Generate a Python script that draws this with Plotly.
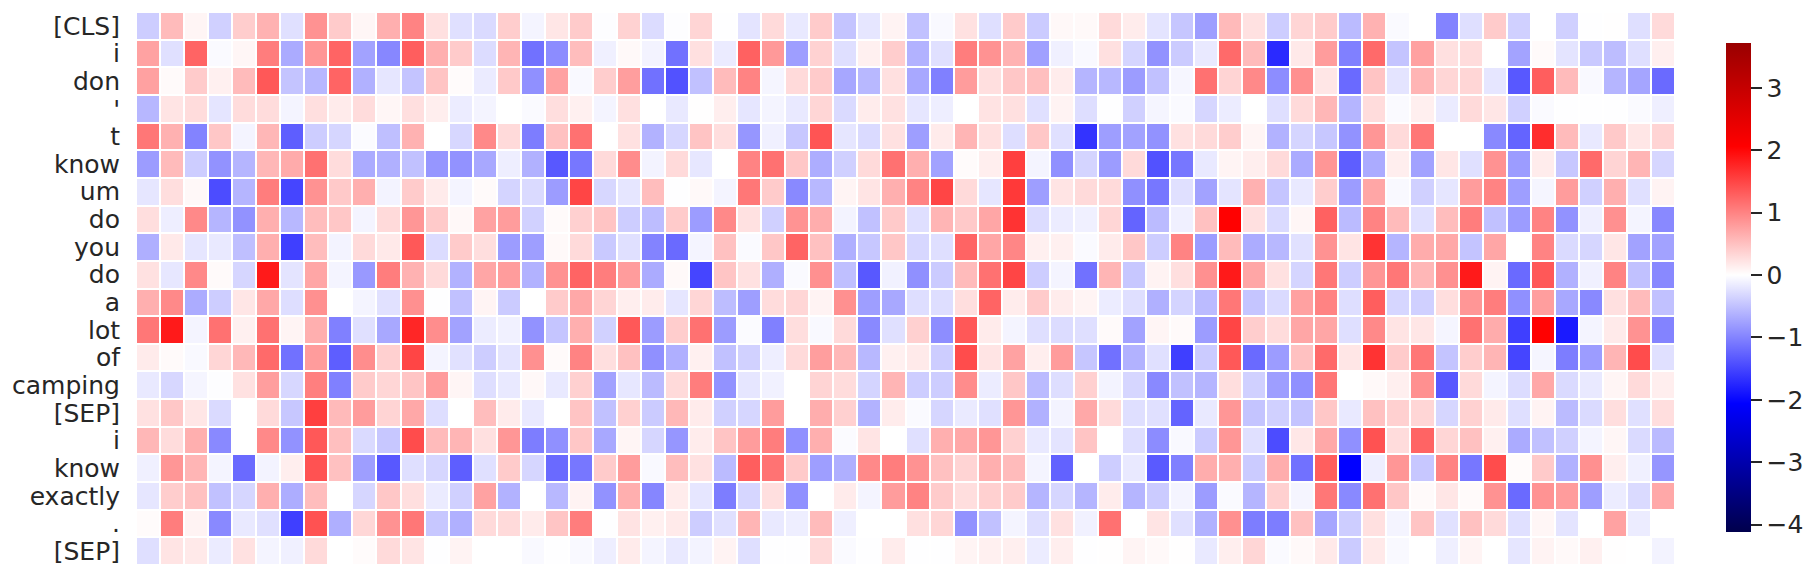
import plotly.graph_objects as go

tokens = ["[CLS]", "i", "don", "'", "t", "know", "um", "do", "you", "do", "a", "lot", "of", "camping", "[SEP]", "i", "know", "exactly", ".", "[SEP]"]

row_cls = [-.4,.55,.08,-.38,.4,.62,-.25,.88,.42,.07,.65,1.0,.25,-.25,-.3,.4,-.09,.2,.42,-.02,.36,-.28,-.02,.34,-.01,-.22,.3,-.18,.42,-.48,-.2,.1,-.5,-.05,.24,-.26,.42,-.42,.06,.05,.3,.15,-.22,-.46,-.78,.56,.24,-.4,.34,.42,-.55,.62,-.04,0,-1.0,-.26,.42,-.38,0,-.38,-.01,.01,-.26,.3]
row_i1 = [.75,-.25,1.25,-.04,.07,1.05,-.68,.85,1.25,-.75,-.97,1.3,.65,.42,-.28,.6,-1.15,-.93,.53,-.12,.05,-.1,-1.15,.25,-.16,1.28,.82,-.78,.36,-.26,.12,.4,-.62,-.25,1.05,.88,.62,-.77,-.12,-.05,.25,-.34,-.88,-.42,-.18,1.2,.55,-1.72,.18,.8,-1.03,1.2,-.48,.76,.25,.28,0,-.74,.04,-.22,-.44,-.53,-.26,.13]
row_don = [.76,.04,.42,.12,.55,1.35,-.48,-.58,1.25,-.63,-.2,-.48,.48,.03,-.16,.44,-.9,.75,-.05,.4,.78,-1.15,-1.4,-.5,.55,1.0,-.08,.3,.42,-.71,-.57,.25,-.7,-1.03,.8,.26,.45,.52,.15,-.6,-.57,-.8,-.5,-.07,1.15,.35,.95,-.92,.9,.2,-1.2,.48,-.22,.6,.33,.33,-.2,-1.35,1.3,.55,-.05,-.6,-.73,-1.2]
row_apos = [-.58,.22,.28,-.21,.28,.28,-.09,.26,.16,.28,.07,.26,.14,-.15,-.09,0,-.04,.27,.12,-.09,.25,0,-.18,.01,.14,-.2,-.09,-.18,.33,-.3,.15,.24,-.2,-.14,0,.23,.25,-.25,.1,-.27,-.01,-.38,-.08,-.04,-.33,-.15,0,-.26,.3,.58,-.6,.28,-.04,.13,-.16,.3,.2,-.38,-.04,-.01,-.01,-.01,-.04,-.13]
row_t = [1.1,.63,-1.0,.45,-.09,.58,-1.3,-.4,-.33,-.03,-.52,.62,0,-.32,.95,.3,-1.05,.5,1.15,0,.24,-.62,-.33,.48,.27,-.85,-.12,-.45,1.38,-.2,-.3,.24,-.78,.16,.6,.25,-.27,.45,-.25,-1.65,-.78,-.75,-.88,.24,.3,.4,.08,-.62,-.34,-.45,-.88,.85,.3,1.1,0,0,-.95,-1.25,1.7,.55,-.18,.44,.2,.35]
row_know1 = [-.8,.55,-.4,-.88,-.6,.58,.68,1.15,.28,-.68,-.64,-.5,-.85,-.88,-.7,-.14,-.63,-1.35,-1.1,.3,.93,-.1,.3,-.19,0,1.0,1.15,.45,-.66,-.38,.3,1.15,.65,-.75,.03,.14,1.55,-.09,-.9,-.35,-.8,.3,-1.4,-1.1,-.18,.09,.14,.3,-.68,.85,-1.3,-.68,.14,-.75,.2,-.25,.88,-.8,.15,-.45,1.2,.35,.6,-.33]
row_um = [-.2,.27,.06,-1.45,-.6,1.05,-1.5,.88,.44,.65,-.1,.42,.16,-.09,.04,-.35,-.3,-.8,1.5,-.32,-.2,.53,-.01,.05,-.09,1.1,.42,-.95,-.57,.09,.22,.65,1.0,1.5,.3,-.2,1.6,-.78,.22,.3,.3,-.9,-1.1,-.25,-.75,-.22,.63,-.47,-.18,.4,-.8,.72,-.05,-.38,-.2,.8,1.0,-.78,-.08,.8,-.38,.65,-.25,.1]
row_do1 = [.27,-.14,.95,-.6,-.88,.65,-.57,.53,.45,-.09,.3,.85,.43,.06,.75,.8,-.37,.04,.38,.48,-.4,-.53,.42,-.8,.95,.24,-.38,.87,.66,-.1,-.5,.43,-.26,.6,.44,.72,1.65,-.28,-.15,-.12,.33,-1.25,-.55,-.12,.5,2.05,.25,-.3,.07,1.28,-.55,1.0,.55,-.25,.53,1.05,-.5,-.8,1.0,-.88,-.13,.9,-.09,-.95]
row_you = [-.65,.18,-.2,-.18,-.52,.65,-1.55,.53,-.1,.3,.18,1.35,-.28,.42,.27,-.8,-.78,.05,.3,-.44,-.25,-1.0,-1.2,-.09,.5,-.04,.45,1.25,.5,-.65,-.45,.45,-.32,-.26,1.25,.72,.98,.12,.12,-.04,.16,.45,-.4,1.0,-.8,.55,-.67,-.57,-.24,.88,.22,1.65,-.6,.67,.7,-.48,.72,0,1.0,-.3,-.33,.2,-.75,-.75]
row_do2 = [.24,-.19,.95,.04,-.33,1.85,-.22,.72,-.09,-.82,1.05,.62,.3,-.62,.72,.8,-.62,.88,1.25,1.05,.8,-.68,.05,-1.5,.47,.24,-.65,-.04,.9,-.52,-1.35,-.11,-.9,-.42,.55,1.15,1.5,-.4,-.09,-1.15,.6,-.45,.1,.26,.9,1.85,.72,.24,-.34,1.1,-.4,.85,1.1,.58,.9,1.85,.1,-1.2,1.35,-.63,-.12,1.0,-.5,-.95]
row_a = [.65,.95,-.67,-.4,.2,.7,-.27,.9,0,-.09,-.24,.9,-.01,-.5,.09,-.42,0,.42,.7,.34,.14,.15,-.2,.33,-.53,-.78,.28,.33,.1,.9,-.78,-.7,-.27,-.27,.27,1.25,.15,.42,.15,.09,-.15,-.26,-.64,-.35,-.55,1.1,-.47,-.3,.76,1.0,-.27,1.3,-.33,-.38,.27,.85,1.05,-.9,.78,-.7,-.95,.25,.55,-.5]
row_lot = [1.1,1.85,-.09,1.15,.12,1.15,.09,.65,-1.03,-.25,-.7,1.75,.92,-.75,-.15,-.11,-.88,-.47,.65,-.37,1.35,-.8,.4,1.15,-.8,-.03,-1.03,.27,-.05,.3,-.95,-.25,.38,-.92,1.35,.16,-.09,-.26,-.28,-.26,.04,-.75,.08,.04,-.8,1.5,.4,.28,.72,.72,-.26,.95,.22,.2,-.08,1.15,.67,-1.55,2.05,-1.85,-.09,.17,.88,-1.0]
row_of = [.16,.04,-.05,.33,.57,1.2,-1.15,.8,-1.3,.92,.38,1.5,-.09,-.24,-.4,-.22,.9,.04,1.0,.26,.5,-.9,-.65,.12,-.5,-.37,-.14,.3,.78,.57,-.57,.12,.17,-.4,1.45,.22,.75,.14,.8,-.46,-1.15,-.62,-.25,-1.55,-.42,1.35,-1.2,-.8,.5,1.2,.2,1.65,.42,1.1,-.48,.4,.6,-1.5,-.08,-1.05,-.8,.6,1.45,-.25]
row_camping = [-.18,-.32,-.08,-.02,.24,.78,-.32,1.03,-1.03,.42,.33,.47,.8,.08,-.27,-.18,.06,-.18,.38,-.75,-.19,-.55,.3,1.05,-.88,-.2,-.11,0,.35,.28,-.35,.6,-.4,-.4,.93,-.15,.45,-.55,-.27,.38,-.1,-.33,-.95,-.5,-.6,.27,-.38,-.78,-.9,1.1,0,.05,.13,.9,-1.35,.3,-.09,-.28,.7,-.3,-.18,.08,.3,.14]
row_sep1 = [.24,.45,.2,-.3,0,.3,-.45,1.55,.56,.8,.35,.7,-.27,0,.53,.16,-.18,0,.48,-.5,.38,-.42,.57,.16,-.38,-.33,.8,0,.66,.38,-.62,.15,-.04,-.33,-.17,-.25,.85,-.63,-.1,.7,.3,-.26,-.25,-1.25,-.18,.85,-.48,-.38,-.48,.45,-.18,.5,.38,.33,-.33,.37,.17,-.26,.1,-.55,-.3,.27,-.25,.27]
row_i2 = [.58,.28,.65,-.95,0,.95,-.88,1.35,.52,-.3,-.45,1.45,.55,.6,.25,.85,-1.05,-.9,.45,-.7,.08,-.33,-.85,.15,.48,.8,1.05,-.9,.65,-.03,.22,0,-.25,.65,.7,.85,.37,-.18,-.22,.48,0,-.27,-.93,-.05,-.42,.85,-.25,-1.45,.19,.7,-.9,1.4,.28,1.25,.33,.5,.12,-.68,-.5,-.38,-.09,.07,-.3,-.55]
row_know2 = [-.12,.85,.6,-.09,-1.2,-.1,.14,1.4,.5,-.78,-1.35,-.26,-.33,-1.3,-.25,.42,-.33,-1.2,-1.1,.42,.8,-.05,.53,.24,-.55,1.3,1.13,.43,-.78,-.65,.95,1.05,.88,.5,.35,.65,.55,-.09,-1.27,0,-.4,-.18,-1.33,-1.03,.66,.65,-.42,.66,-1.15,1.3,-2.05,-.14,.85,-.45,1.0,-1.1,1.45,.03,.43,-.63,.9,.14,-.12,-.85]
row_exactly = [-.2,.4,.5,-.5,-.33,.65,-.66,.53,0,-.33,.45,.26,-.16,-.38,.75,-.62,0,-.57,.1,-.88,.65,-.98,.15,-.2,-1.05,-.33,.26,-.9,0,.16,-.09,.8,1.0,.42,.27,.38,.42,-.6,-.33,-.6,.15,-.6,-.42,-.09,-.8,-.04,-.6,.38,-.08,1.1,-.95,1.15,.46,.04,.2,.04,.88,-1.2,.87,.8,-.78,-.15,-.3,.7]
row_dot = [.03,1.05,.1,-.95,-.18,-.25,-1.55,1.4,-.65,.32,.88,1.1,-.45,-.64,.3,.3,.16,.47,1.05,-.01,.23,.12,.17,-.4,-.25,.6,-.18,-.14,.55,-.13,0,0,.25,.33,-.88,-.5,-.09,-.27,.24,-.11,1.15,0,.22,-.25,-.63,.9,-1.05,-1.05,.5,-.72,-.4,.25,-.09,.48,-.24,.5,.3,-.25,.07,-.22,0,.75,-.15,0]
row_sep2 = [-.26,.22,.18,-.16,.24,-.09,-.12,.3,0,.03,.3,.22,-.01,.1,0,0,-.05,-.01,-.05,-.14,.16,-.09,-.18,-.1,.1,-.26,-.01,-.01,.3,-.04,-.01,.15,-.01,-.01,.09,.12,.13,-.15,.14,-.01,.01,.09,.05,.01,-.18,.14,.33,-.04,.05,.18,-.42,.18,-.05,0,-.13,.09,0,-.2,.1,.05,.12,.01,0,-.1]

rows = [row_cls, row_i1, row_don, row_apos, row_t, row_know1, row_um, row_do1, row_you, row_do2,
        row_a, row_lot, row_of, row_camping, row_sep1, row_i2, row_know2, row_exactly, row_dot, row_sep2]
for r in rows:
    assert len(r) == 64, len(r)

zmin, zmax = -4.12, 3.72
def pos(v):
    return (v - zmin) / (zmax - zmin)
colorscale = [
    [pos(-4.12), "rgb(0,0,76)"],
    [pos(-2.06), "rgb(0,0,255)"],
    [pos(0), "rgb(255,255,255)"],
    [pos(2.06), "rgb(255,0,0)"],
    [pos(3.72), "rgb(153,0,0)"],
]

TEXT = "#262626"
fig = go.Figure(go.Heatmap(
    z=rows,
    x=list(range(64)),
    y=list(range(20)),
    zmin=zmin, zmax=zmax,
    colorscale=colorscale,
    xgap=2, ygap=2,
    hoverongaps=False,
    colorbar=dict(
        xref="container", yref="container",
        x=1726 / 1815, xanchor="left", xpad=0,
        y=1 - 45 / 578, yanchor="top", ypad=0,
        thickness=25, thicknessmode="pixels",
        len=489, lenmode="pixels",
        outlinewidth=0,
        tickmode="array", tickvals=[-4, -3, -2, -1, 0, 1, 2, 3],
        ticks="outside", ticklen=11, tickwidth=2, tickcolor=TEXT,
        tickfont=dict(family="DejaVu Sans", size=25, color=TEXT),
    ),
))
fig.update_layout(
    width=1815, height=578,
    margin=dict(l=136, r=140, t=12, b=13, pad=0, autoexpand=False),
    paper_bgcolor="white", plot_bgcolor="white",
    xaxis=dict(range=[-0.5, 63.5], showticklabels=False, showgrid=False, zeroline=False, ticks=""),
    yaxis=dict(range=[19.5, -0.5], tickmode="array", tickvals=list(range(20)), ticktext=tokens,
               showgrid=False, zeroline=False, ticks="", ticklabelstandoff=15,
               tickfont=dict(family="DejaVu Sans", size=25, color=TEXT)),
)
fig.write_html("out.html", config={"displayModeBar": False},
               post_script="document.body.style.margin='0';document.body.style.overflow='hidden';")
